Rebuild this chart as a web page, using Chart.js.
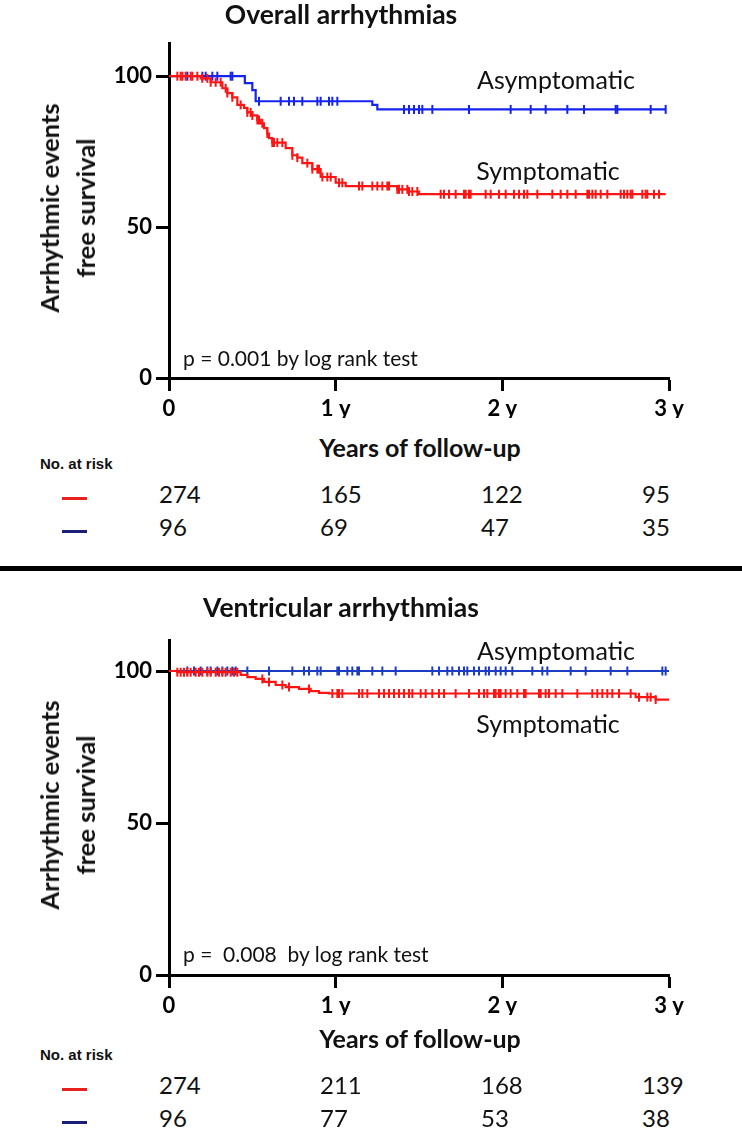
<!DOCTYPE html>
<html>
<head>
<meta charset="utf-8">
<script src="https://cdn.jsdelivr.net/npm/chart.js@4.4.1/dist/chart.umd.min.js"></script>
<style>
  body { margin: 0; background: #fff; }
  #page { position: relative; width: 742px; height: 1128px; overflow: hidden; font-family: Lato, "Open Sans", sans-serif; color: #111; }
  .cv { position: absolute; left: 0; }
  .t { position: absolute; white-space: pre; line-height: 1; }
  .title { font-weight: 700; font-size: 26.5px; }
  .ytitle { font-weight: 700; font-size: 25.5px; line-height: 36px; text-align: center; }
  .note { font-size: 21px; }
  .lab { font-size: 25px; }
  .xtitle { font-weight: 700; font-size: 25px; }
  .risk { font-weight: 700; font-size: 15px; font-family: "Liberation Sans", Arial, sans-serif; }
  .num { font-size: 24px; }
  .dash { position: absolute; height: 3px; width: 25px; left: 62px; }
  .sep { position: absolute; left: 0; width: 742px; height: 5px; top: 566px; background: #000; }
</style>
</head>
<body>
<div id="page">
  <canvas id="chartOverall" class="cv" width="742" height="430" style="top:0"></canvas>
  <canvas id="chartVentricular" class="cv" width="742" height="430" style="top:597px"></canvas>
  <div class="sep"></div>
</div>

<script>
/* ── Data ── */
const xTicks = [0, 1, 2, 3];
const xTickLabels = ['0', '1 y', '2 y', '3 y'];
const yTicks = [0, 50, 100];

// Overall arrhythmias: step times (years) and survival (%)
const oaSymT = [0, 0.19, 0.25, 0.32, 0.35, 0.38, 0.41, 0.45, 0.47, 0.50, 0.53, 0.55, 0.57, 0.59, 0.60, 0.62, 0.70, 0.74, 0.77, 0.80, 0.86, 0.91, 1.00, 1.06, 1.37, 1.44, 1.50, 2.98];
const oaSymS = [100, 99.3, 98, 96, 94.4, 93, 90.5, 89.5, 88, 87, 85.5, 84.4, 82.8, 81, 79.5, 78, 76.2, 73.8, 73, 71.2, 69.2, 66.6, 64.7, 63.6, 62.5, 61.8, 60.9, 60.9];
const oaSymCens = [0.05, 0.07, 0.08, 0.10, 0.13, 0.14, 0.17, 0.20, 0.23, 0.25, 0.28, 0.31, 0.34, 0.35, 0.38, 0.43, 0.47, 0.49, 0.50, 0.53, 0.54, 0.56, 0.59, 0.62, 0.63, 0.65, 0.68, 0.74, 0.77, 0.83, 0.86, 0.89, 0.90, 0.92, 0.95, 0.97, 1.02, 1.04, 1.14, 1.16, 1.22, 1.25, 1.28, 1.31, 1.32, 1.37, 1.38, 1.40, 1.43, 1.44, 1.46, 1.49, 1.63, 1.65, 1.68, 1.72, 1.77, 1.78, 1.80, 1.81, 1.90, 1.93, 1.98, 2.02, 2.07, 2.10, 2.13, 2.15, 2.21, 2.30, 2.35, 2.39, 2.44, 2.51, 2.52, 2.54, 2.56, 2.59, 2.63, 2.71, 2.73, 2.75, 2.77, 2.78, 2.84, 2.86, 2.87, 2.91, 2.94];
const oaAsymT = [0, 0.455, 0.50, 0.52, 1.22, 1.25, 2.98];
const oaAsymS = [100, 97.7, 95.4, 91.7, 90.5, 89, 89];
const oaAsymCens = [0.11, 0.20, 0.22, 0.26, 0.29, 0.37, 0.38, 0.54, 0.67, 0.72, 0.75, 0.80, 0.89, 0.91, 0.96, 0.98, 1.01, 1.41, 1.44, 1.47, 1.50, 1.52, 1.58, 1.80, 2.05, 2.17, 2.26, 2.39, 2.49, 2.68, 2.69, 2.89, 2.98];

// Ventricular arrhythmias
const vaSymT = [0, 0.05, 0.43, 0.47, 0.52, 0.57, 0.64, 0.70, 0.78, 0.85, 0.90, 0.96, 2.80, 2.92, 3.0];
const vaSymS = [100, 99.6, 98.7, 98.0, 97.4, 96.4, 95.4, 94.7, 94.1, 93.4, 92.8, 92.6, 91.4, 90.6, 90.6];
const vaSymCens = [0.05, 0.07, 0.09, 0.11, 0.13, 0.16, 0.18, 0.20, 0.23, 0.25, 0.28, 0.30, 0.32, 0.34, 0.37, 0.39, 0.41, 0.56, 0.60, 0.68, 0.72, 0.84, 0.98, 1.01, 1.02, 1.04, 1.14, 1.16, 1.19, 1.26, 1.29, 1.32, 1.35, 1.38, 1.41, 1.44, 1.46, 1.51, 1.54, 1.58, 1.62, 1.65, 1.72, 1.80, 1.86, 1.89, 1.91, 1.95, 1.96, 1.98, 1.99, 2.02, 2.05, 2.09, 2.13, 2.14, 2.22, 2.23, 2.26, 2.28, 2.32, 2.36, 2.45, 2.54, 2.57, 2.60, 2.63, 2.66, 2.70, 2.77, 2.82, 2.87, 2.89, 2.92];
const vaAsymT = [0, 3.0];
const vaAsymS = [100, 100];
const vaAsymCens = [0.11, 0.15, 0.19, 0.23, 0.25, 0.29, 0.32, 0.35, 0.38, 0.40, 0.47, 0.60, 0.74, 0.81, 0.84, 0.89, 0.91, 1.01, 1.02, 1.07, 1.10, 1.13, 1.14, 1.22, 1.28, 1.36, 1.58, 1.62, 1.67, 1.70, 1.74, 1.77, 1.79, 1.83, 1.86, 1.90, 1.92, 1.96, 1.99, 2.02, 2.06, 2.18, 2.24, 2.27, 2.41, 2.50, 2.65, 2.75, 2.96, 2.98];

// Numbers at risk at 0, 1, 2, 3 years
const oaRiskSym = [274, 165, 122, 95];
const oaRiskAsym = [96, 69, 47, 35];
const vaRiskSym = [274, 211, 168, 139];
const vaRiskAsym = [96, 77, 53, 38];

/* ── Helpers ── */
const RED = '#ff1414';
const BLUE = '#1424ee';
const BLUE2 = '#1c3cc4';

function stepAt(ts, ss, t) {
  let v = ss[0];
  for (let i = 0; i < ts.length; i++) { if (ts[i] <= t) v = ss[i]; }
  return v;
}

function kmChart(id, series, yMax) {
  const datasets = [];
  series.forEach(s => {
    datasets.push({
      data: s.t.map((t, i) => ({ x: t, y: s.s[i] })),
      showLine: true, stepped: 'before',
      borderColor: s.color, borderWidth: 2.2, pointRadius: 0
    });
    datasets.push({
      data: s.cens.map(t => ({ x: t, y: stepAt(s.t, s.s, t) })),
      showLine: false, pointStyle: 'line', pointRotation: 90,
      pointRadius: 4.5, pointBorderWidth: 2,
      pointBorderColor: s.color, pointBackgroundColor: s.color
    });
  });

  const tickFont = { family: 'Lato', weight: 'bold', size: 22 };
  new Chart(document.getElementById(id), {
    type: 'scatter',
    data: { datasets },
    options: {
      responsive: false,
      animation: false,
      layout: { padding: { top: 43, right: 73, bottom: 12, left: 0 } },
      plugins: { legend: { display: false }, tooltip: { enabled: false } },
      scales: {
        x: {
          type: 'linear', min: 0, max: 3,
          afterBuildTicks: ax => { ax.ticks = xTicks.map(v => ({ value: v })); },
          afterFit: sc => { sc.height = 40; },
          ticks: {
            callback: v => xTickLabels[xTicks.indexOf(v)],
            font: tickFont, color: '#000', padding: 5, maxRotation: 0, autoSkip: false
          },
          grid: { drawOnChartArea: false, tickLength: 13, tickWidth: 3, tickColor: '#000' },
          border: { color: '#000', width: 3 }
        },
        y: {
          min: 0, max: yMax,
          afterBuildTicks: ax => { ax.ticks = yTicks.map(v => ({ value: v })); },
          afterFit: sc => { sc.width = 169; },
          ticks: { font: tickFont, color: '#000', padding: 4 },
          grid: { drawOnChartArea: false, tickLength: 13, tickWidth: 3, tickColor: '#000' },
          border: { color: '#000', width: 3 }
        }
      }
    }
  });
}

/* ── Text overlay ── */
const page = document.getElementById('page');
function txt(text, x, y, cls, align) {
  const d = document.createElement('div');
  d.className = 't ' + cls;
  d.textContent = text;
  d.style.left = x + 'px';
  d.style.top = y + 'px';
  d.style.transform = align === 'left' ? 'translateY(-50%)' : 'translate(-50%,-50%)';
  page.appendChild(d);
  return d;
}

function riskTable(y0, sym, asym) {
  txt('No. at risk', 40, y0, 'risk', 'left');
  const cols = [159, 320, 481, 642];
  const rows = [[sym, '#e82020'], [asym, '#1c1f78']];
  rows.forEach(([vals, dashColor], r) => {
    const y = y0 + 31 + r * 33;
    vals.forEach((v, i) => txt(String(v), cols[i], y, 'num', 'left'));
    const dash = document.createElement('div');
    dash.className = 'dash';
    dash.style.top = (y + 3) + 'px';
    dash.style.background = dashColor;
    page.appendChild(dash);
  });
}

// pos: [title, y-title, p-text, asymptomatic, symptomatic, x-title] vertical centres
function panel(title, pText, pos) {
  txt(title, 341, pos[0], 'title');
  const yt = txt('Arrhythmic events\nfree survival', 67, pos[1], 'ytitle');
  yt.style.transform = 'translate(-50%,-50%) rotate(-90deg)';
  txt(pText, 183, pos[2], 'note', 'left');
  txt('Asymptomatic', 556, pos[3], 'lab');
  txt('Symptomatic', 548, pos[4], 'lab');
  txt('Years of follow-up', 420, pos[5], 'xtitle');
}

panel('Overall arrhythmias', 'p = 0.001 by log rank test', [14, 208, 357, 79, 170, 447]);
riskTable(463, oaRiskSym, oaRiskAsym);

panel('Ventricular arrhythmias', 'p =  0.008  by log rank test', [607, 805, 953, 650, 723, 1038]);
riskTable(1054, vaRiskSym, vaRiskAsym);

/* ── Charts ── */
kmChart('chartOverall', [
  { t: oaSymT, s: oaSymS, cens: oaSymCens, color: RED },
  { t: oaAsymT, s: oaAsymS, cens: oaAsymCens, color: BLUE }
], 111);

kmChart('chartVentricular', [
  { t: vaSymT, s: vaSymS, cens: vaSymCens, color: RED },
  { t: vaAsymT, s: vaAsymS, cens: vaAsymCens, color: BLUE2 }
], 110.2);
</script>
</body>
</html>
